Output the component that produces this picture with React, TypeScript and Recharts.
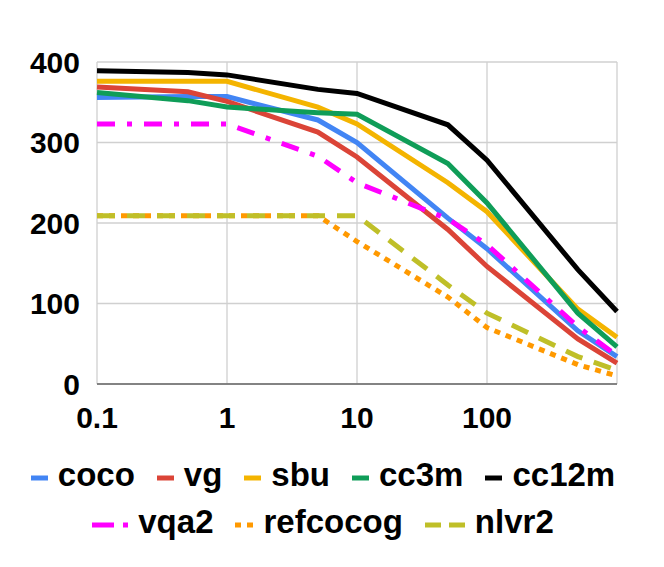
import React from "react"
import { LineChart, Line, XAxis, YAxis, CartesianGrid, Legend } from "recharts"

const xValues = [0.1, 0.5, 1, 5, 10, 50, 100, 500, 1000]
const coco = [356, 357, 357, 328, 300, 206, 168, 66, 34]
const vg = [369, 363, 351, 313, 282, 192, 146, 56, 26]
const sbu = [376, 376, 376, 344, 323, 250, 214, 93, 58]
const cc3m = [362, 352, 344, 337, 335, 274, 225, 88, 46]
const cc12m = [389, 387, 384, 366, 361, 322, 278, 142, 90]
const vqa2 = [323, 323, 323, 283, 250, 205, 173, 71, 35]
const refcocog = [209, 209, 209, 209, 177, 108, 70, 24, 10]
const nlvr2 = [209, 209, 209, 209, 209, 123, 88, 34, 17]

const xTicks = [0.1, 1, 10, 100, 1000]
const yTicks = [0, 100, 200, 300, 400]

const FONT = "'Liberation Sans', Arial, sans-serif"

type Series = {
  key: string
  values: number[]
  color: string
  dash?: string
  icon: { width: number; dash?: string }
}

const series: Series[] = [
  { key: "coco", values: coco, color: "#4285F4", icon: { width: 17 } },
  { key: "vg", values: vg, color: "#DB4437", icon: { width: 17 } },
  { key: "sbu", values: sbu, color: "#F4B400", icon: { width: 17 } },
  { key: "cc3m", values: cc3m, color: "#0F9D58", icon: { width: 17 } },
  { key: "cc12m", values: cc12m, color: "#000000", icon: { width: 17 } },
  { key: "vqa2", values: vqa2, color: "#FF00FF", dash: "18 12 5 12", icon: { width: 36, dash: "22 9 5 40" } },
  { key: "refcocog", values: refcocog, color: "#FF9900", dash: "6 6", icon: { width: 18, dash: "6 6" } },
  { key: "nlvr2", values: nlvr2, color: "#BFBF28", dash: "18 12", icon: { width: 40, dash: "16 8" } },
]

const rows = xValues.map((x, i) => {
  const row: Record<string, number> = { x }
  series.forEach((s) => (row[s.key] = s.values[i]))
  return row
})

const legendRows = [series.slice(0, 5), series.slice(5)]

function LegendBox() {
  return (
    <div style={{ width: 630, height: 119, paddingTop: 3, boxSizing: "border-box", fontFamily: FONT, fontWeight: 700, fontSize: 33, color: "#000" }}>
      {legendRows.map((r, ri) => (
        <div key={ri} style={{ height: 47, lineHeight: "47px", display: "flex", justifyContent: "center", alignItems: "center" }}>
          {r.map((s, i) => (
            <div key={s.key} style={{ display: "flex", alignItems: "center", marginLeft: i === 0 ? 0 : 22 }}>
              <svg width={s.icon.width} height={6} style={{ marginRight: 10, position: "relative", top: 3 }}>
                <line x1={0} y1={3} x2={s.icon.width} y2={3} stroke={s.color} strokeWidth={5} strokeDasharray={s.icon.dash} />
              </svg>
              <span>{s.key}</span>
            </div>
          ))}
        </div>
      ))}
    </div>
  )
}

export default function App() {
  const tickStyle = { fontSize: 30, fontWeight: 700, fill: "#000", fontFamily: FONT }
  return (
    <div style={{ width: 656, height: 559 }}>
      <LineChart width={656} height={559} data={rows} margin={{ top: 54, right: 47, left: 0, bottom: 0 }}>
        <CartesianGrid stroke="#d0d0d0" strokeWidth={1.3} />
        <XAxis
          dataKey="x"
          type="number"
          scale="log"
          domain={[0.1, 1000]}
          ticks={xTicks}
          interval={0}
          height={64}
          tickSize={0}
          tickMargin={23}
          tickLine={false}
          axisLine={{ stroke: "#666", strokeWidth: 1.5 }}
          tick={tickStyle}
          tickFormatter={(v: number) => (v === 1000 ? "" : String(v))}
        />
        <YAxis
          type="number"
          domain={[0, 400]}
          ticks={yTicks}
          interval={0}
          width={89}
          tickSize={0}
          tickMargin={17}
          tickLine={false}
          axisLine={false}
          tick={tickStyle}
        />
        <Legend verticalAlign="bottom" content={() => <LegendBox />} wrapperStyle={{ left: 0, width: 630, bottom: 0 }} />
        {series.map((s) => (
          <Line
            key={s.key}
            type="linear"
            dataKey={s.key}
            stroke={s.color}
            strokeWidth={5}
            strokeDasharray={s.dash}
            dot={false}
            activeDot={false}
            isAnimationActive={false}
          />
        ))}
      </LineChart>
    </div>
  )
}
